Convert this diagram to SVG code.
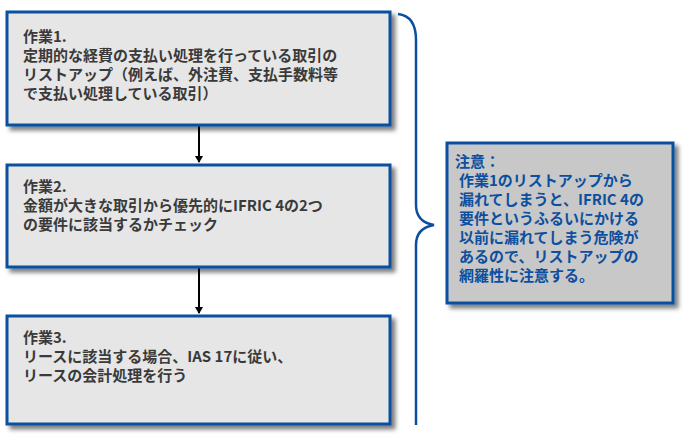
<svg xmlns="http://www.w3.org/2000/svg" width="690" height="441" viewBox="0 0 690 441">
<defs>
<filter id="sh" x="-10%" y="-10%" width="130%" height="130%"><feDropShadow dx="4" dy="4" stdDeviation="2" flood-color="#000" flood-opacity="0.5"/></filter>
<marker id="ar" markerWidth="8" markerHeight="8" refX="6" refY="4" orient="auto" markerUnits="userSpaceOnUse"><path d="M0,0 L7,4 L0,8 Z" fill="#000"/></marker>
</defs>
<style>
.box{fill:#e6e6e6;stroke:#0d4f9f;stroke-width:3;filter:url(#sh)}
.note{fill:#c8c8c8;stroke:#0d4f9f;stroke-width:3;filter:url(#sh)}
.t{font-family:"Noto Sans CJK JP","Liberation Sans",sans-serif;font-size:15px;font-weight:bold;fill:#3a3a3a}
.n{font-family:"Noto Sans CJK JP","Liberation Sans",sans-serif;font-size:15px;font-weight:bold;fill:#0d4f9f}
</style>
<g id="connectors" stroke="#000" stroke-width="2" fill="none">
<line x1="199" y1="126" x2="199" y2="162" marker-end="url(#ar)"/>
<line x1="199" y1="268" x2="199" y2="313" marker-end="url(#ar)"/>
<path d="M398,14 Q416,16 416,40 L416,205 Q416,222 434,225 Q416,228 416,245 L416,425" stroke="#0d4f9f" stroke-width="2.5"/>
</g>
<g id="task1"><rect class="box" x="7" y="12" width="383" height="113"/>
<text class="t" x="23" y="42">作業1.</text>
<text class="t" x="23" y="61">定期的な経費の支払い処理を行っている取引の</text>
<text class="t" x="23" y="80">リストアップ（例えば、外注費、支払手数料等</text>
<text class="t" x="23" y="99">で支払い処理している取引）</text></g>
<g id="task2"><rect class="box" x="7" y="165" width="383" height="102"/>
<text class="t" x="23" y="192">作業2.</text>
<text class="t" x="23" y="211">金額が大きな取引から優先的にIFRIC 4の2つ</text>
<text class="t" x="23" y="230">の要件に該当するかチェック</text></g>
<g id="task3"><rect class="box" x="7" y="316" width="383" height="108"/>
<text class="t" x="23" y="343">作業3.</text>
<text class="t" x="23" y="362">リースに該当する場合、IAS 17に従い、</text>
<text class="t" x="23" y="381">リースの会計処理を行う</text></g>
<g id="note"><rect class="note" x="447" y="143" width="226" height="160"/>
<text class="n" x="455" y="167">注意：</text>
<text class="n" x="459" y="186">作業1のリストアップから</text>
<text class="n" x="459" y="205">漏れてしまうと、IFRIC 4の</text>
<text class="n" x="459" y="224">要件というふるいにかける</text>
<text class="n" x="459" y="243">以前に漏れてしまう危険が</text>
<text class="n" x="459" y="262">あるので、リストアップの</text>
<text class="n" x="459" y="281">網羅性に注意する。</text></g>
</svg>
